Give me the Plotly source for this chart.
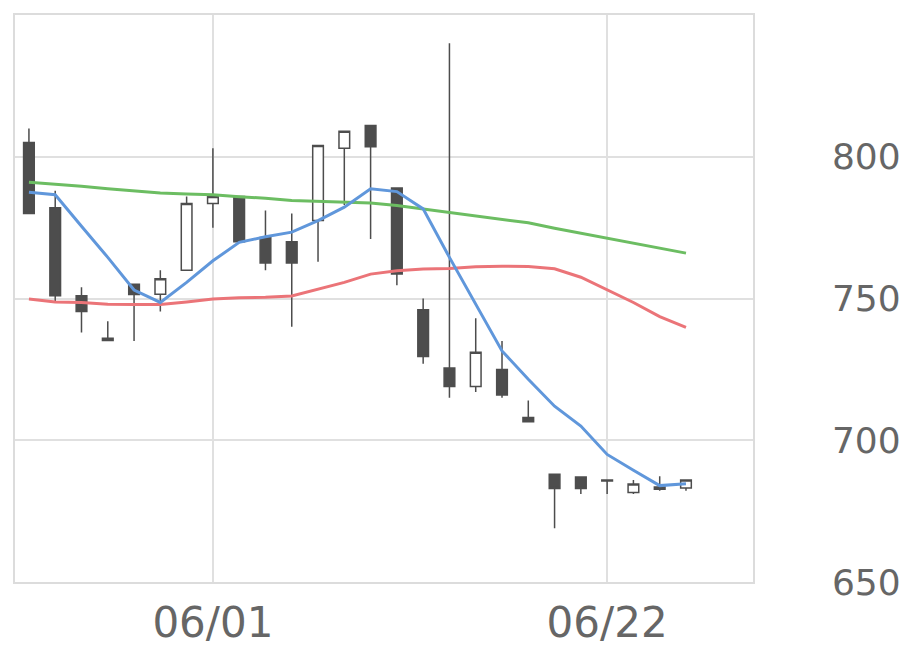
import plotly.graph_objects as go

dates = ["05/21", "05/22", "05/25", "05/26", "05/27", "05/28", "05/29",
         "06/01", "06/02", "06/03", "06/04", "06/05",
         "06/08", "06/09", "06/10", "06/11", "06/12",
         "06/15", "06/16", "06/17", "06/18", "06/19",
         "06/22", "06/23", "06/24", "06/25"]

open_ = [805, 782, 751, 736, 755, 751.5, 760, 783.5, 786, 771.5, 770, 777.5, 803, 811, 789,
         746, 725.5, 719, 725, 708, 688, 687, 686, 681.6, 683.5, 683.2]
high = [810, 788, 754, 742, 755, 760, 786, 803, 786, 781, 780, 804, 809, 811, 789,
        750, 840, 743, 735, 714, 688, 687, 686, 686, 687.3, 686]
low = [780, 749, 738, 735, 735, 745.4, 760, 775, 770, 760, 740, 763, 783, 771, 754.7,
       727, 715, 717, 715, 706.5, 669, 681, 681, 681, 682.2, 682.2]
close = [780, 751, 745.4, 735.2, 751.4, 757, 783.5, 786, 770, 762.5, 762.5, 804, 809, 803.5, 758.6,
         729.5, 719, 731, 716, 706.5, 683, 683, 685.6, 684.6, 682.7, 686]

ma_short = [787.5, 786.6, 775.5, 764.5, 753, 748.6, 755.7, 763.3, 769.8, 771.8, 773.4, 777.5, 782.2,
            788.7, 787.7, 781.6, 764.5, 748, 731.5, 721.5, 712, 705, 695, 689.4, 684, 684.7]
ma_mid = [749.8, 748.8, 748.6, 748, 747.9, 747.9, 748.8, 749.8, 750.3, 750.4, 750.9, 753.3, 755.7,
          758.6, 759.8, 760.4, 760.6, 761.2, 761.4, 761.3, 760.5, 757.5, 753, 748.6, 743.6, 739.8]
ma_long = [791, 790.4, 789.6, 788.7, 788, 787.2, 786.9, 786.6, 785.9, 785.4, 784.6, 784.3, 784,
           783.7, 782.8, 781.6, 780.4, 779.3, 778.1, 776.7, 774.8, 773, 771.3, 769.4, 767.7, 766]

x_ticks = ["06/01", "06/22"]
y_ticks = [650, 700, 750, 800]

fig = go.Figure()
fig.add_trace(go.Candlestick(
    x=dates, open=open_, high=high, low=low, close=close,
    increasing=dict(fillcolor="#ffffff", line=dict(color="#4d4d4d", width=1.5)),
    decreasing=dict(fillcolor="#4d4d4d", line=dict(color="#4d4d4d", width=1.5)),
    whiskerwidth=0, showlegend=False, hoverinfo="skip",
))
for vals, col in [(ma_long, "#6cbd62"), (ma_mid, "#eb7478"), (ma_short, "#6097db")]:
    fig.add_trace(go.Scatter(x=dates, y=vals, mode="lines",
                             line=dict(color=col, width=3), showlegend=False, hoverinfo="skip"))

fig.update_layout(
    width=920, height=669,
    margin=dict(l=15, r=167, t=15, b=87),
    paper_bgcolor="white", plot_bgcolor="white",
    boxgap=0.42,
    font=dict(family="DejaVu Sans", color="#666666"),
    xaxis=dict(type="category", range=[-0.53, 27.55], rangeslider=dict(visible=False),
               tickmode="array", tickvals=x_ticks, ticktext=x_ticks,
               showgrid=True, gridcolor="#e0e0e0", gridwidth=1.5,
               showline=True, mirror=True, linecolor="#dcdcdc", linewidth=1.5,
               ticks="", tickfont=dict(size=42, color="#666666"), ticklabelstandoff=3),
    yaxis=dict(side="right", range=[650, 850], tickmode="array", tickvals=y_ticks,
               showgrid=True, gridcolor="#e0e0e0", gridwidth=1.5,
               showline=True, mirror=True, linecolor="#dcdcdc", linewidth=1.5,
               ticks="", tickfont=dict(size=36, color="#666666"), ticklabelstandoff=70,
               zeroline=False),
)

fig.write_html("out.html")
